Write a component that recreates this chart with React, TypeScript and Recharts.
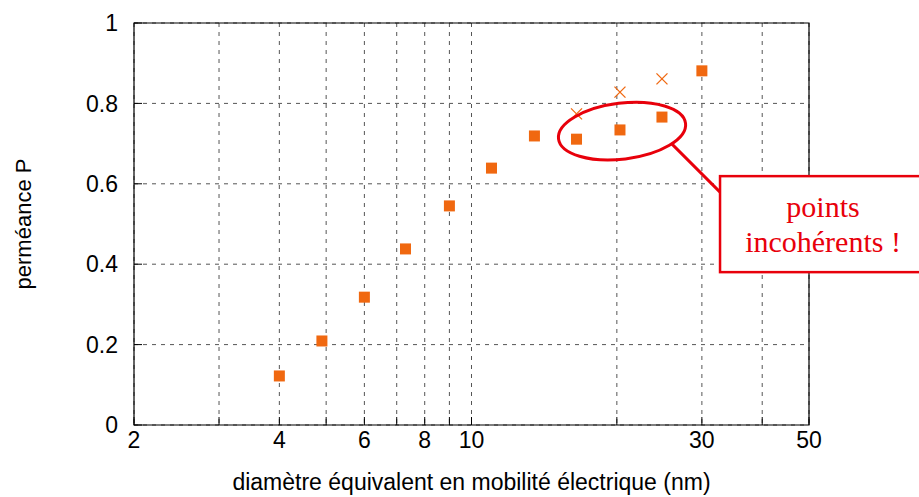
import {
  ScatterChart,
  Scatter,
  XAxis,
  YAxis,
  CartesianGrid,
  ReferenceArea,
  ReferenceDot,
} from "recharts";

// diamètre (nm) et perméance mesurée
const DIAMETERS = [4.0, 4.9, 6.0, 7.3, 9.0, 11.0, 13.5, 16.5, 20.3, 24.8, 30.0];
const PERMEANCE = [0.122, 0.209, 0.318, 0.438, 0.545, 0.639, 0.719, 0.711, 0.734, 0.766, 0.881];

// points attendus (croix) pour les valeurs incohérentes
const EXPECTED_D = [16.5, 20.3, 24.8];
const EXPECTED_P = [0.774, 0.828, 0.861];

const X_TICKS = [2, 3, 4, 5, 6, 7, 8, 9, 10, 20, 30, 40, 50];
const X_LABELED = [2, 4, 6, 8, 10, 30, 50];
const Y_TICKS = [0, 0.2, 0.4, 0.6, 0.8, 1];

const measured = DIAMETERS.map((d, i) => ({ d, p: PERMEANCE[i] }));
const expected = EXPECTED_D.map((d, i) => ({ d, p: EXPECTED_P[i] }));

const ORANGE = "#f06810";
const RED = "#e8000b";
const FONT = "'Liberation Sans', Arial, sans-serif";
const axisTick = { fill: "#000", fontSize: 23, fontFamily: FONT };

const Square = (props: any) => (
  <rect x={props.cx - 5.5} y={props.cy - 5.5} width={11} height={11} fill={ORANGE} />
);

const Cross = (props: any) => {
  const { cx, cy } = props;
  const h = 5.5;
  return (
    <g stroke={ORANGE} strokeWidth={1.3}>
      <line x1={cx - h} y1={cy - h} x2={cx + h} y2={cy + h} />
      <line x1={cx - h} y1={cy + h} x2={cx + h} y2={cy - h} />
    </g>
  );
};

// ellipse + bulle "points incohérents !"
const Callout = (props: any) => {
  const { cx, cy } = props;
  return (
    <g>
      <ellipse
        cx={cx}
        cy={cy}
        rx={64}
        ry={28}
        transform={`rotate(-7 ${cx} ${cy})`}
        fill="none"
        stroke={RED}
        strokeWidth={3}
      />
      <line x1={cx + 50} y1={cy + 13} x2={cx + 98} y2={cy + 61} stroke={RED} strokeWidth={3} />
      <rect x={cx + 98} y={cy + 45} width={230} height={96} fill="#fff" stroke={RED} strokeWidth={2.5} />
      <text
        x={cx + 201}
        y={cy + 86}
        textAnchor="middle"
        fill={RED}
        fontSize={30}
        fontFamily="'Liberation Serif', 'Times New Roman', serif"
      >
        points
      </text>
      <text
        x={cx + 201}
        y={cy + 121}
        textAnchor="middle"
        fill={RED}
        fontSize={30}
        fontFamily="'Liberation Serif', 'Times New Roman', serif"
      >
        incohérents !
      </text>
    </g>
  );
};

export default function App() {
  return (
    <div style={{ position: "absolute", left: 0, top: 0, background: "#fff" }}>
      <ScatterChart width={919} height={497} margin={{ top: 23, right: 110, bottom: 0, left: 0 }}>
        <CartesianGrid stroke="#555" strokeDasharray="4 5" />
        <XAxis
          dataKey="d"
          type="number"
          scale="log"
          domain={[2, 50]}
          allowDataOverflow
          ticks={X_TICKS}
          tickFormatter={(v: number) => (X_LABELED.includes(v) ? String(v) : "")}
          tick={axisTick}
          axisLine={false}
          tickLine={{ stroke: "#000" }}
          tickSize={-8}
          tickMargin={15}
          height={72}
          label={{
            value: "diamètre équivalent en mobilité électrique (nm)",
            position: "insideBottom",
            offset: 7,
            style: { fill: "#000", fontSize: 23, fontFamily: FONT },
          }}
        />
        <YAxis
          dataKey="p"
          type="number"
          domain={[0, 1]}
          ticks={Y_TICKS}
          tick={axisTick}
          axisLine={false}
          tickLine={{ stroke: "#000" }}
          tickSize={-8}
          tickMargin={24}
          width={134}
          label={{
            value: "perméance P",
            angle: -90,
            position: "insideLeft",
            offset: 23,
            style: { fill: "#000", fontSize: 22, fontFamily: FONT, textAnchor: "middle" },
          }}
        />
        <ReferenceArea x1={2} x2={50} y1={0} y2={1} fill="none" fillOpacity={0} stroke="#000" strokeWidth={1.2} />
        <Scatter data={expected} shape={Cross} isAnimationActive={false} />
        <Scatter data={measured} shape={Square} isAnimationActive={false} />
        <ReferenceDot x={20.5} y={0.731} r={0} shape={Callout} />
      </ScatterChart>
    </div>
  );
}
